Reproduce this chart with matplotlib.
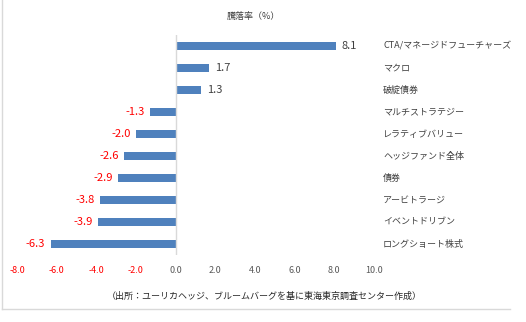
import matplotlib
matplotlib.use("Agg")
import matplotlib.pyplot as plt
import matplotlib.transforms as mtransforms
import numpy as np

plt.rcParams['font.family'] = ['Noto Sans CJK JP', 'DejaVu Sans']

categories = ["CTA/マネージドフューチャーズ", "マクロ", "破綻債券", "マルチストラテジー",
              "レラティブバリュー", "ヘッジファンド全体", "債券", "アービトラージ",
              "イベントドリブン", "ロングショート株式"]
values = [8.1, 1.7, 1.3, -1.3, -2.0, -2.6, -2.9, -3.8, -3.9, -6.3]
xticks = [-8.0, -6.0, -4.0, -2.0, 0.0, 2.0, 4.0, 6.0, 8.0, 10.0]
title = "騰落率（%）"
source = "（出所：ユーリカヘッジ、ブルームバーグを基に東海東京調査センター作成）"

W, H = 526, 322
fig = plt.figure(figsize=(W / 100, H / 100), dpi=100)
ax = fig.add_axes([17 / W, 1 - 255 / H, (374 - 17) / W, 220 / H])

y = np.arange(len(categories))
ax.barh(y, values, height=0.37, color='#4F81BD')
ax.set_ylim(len(categories) - 0.5, -0.5)
ax.set_xlim(-8, 10)

for s in ax.spines.values():
    s.set_visible(False)
ax.axvline(0, color='#D9D9D9', lw=1)
ax.set_yticks([])
ax.set_xticks(xticks)
ax.set_xticklabels([f"{t:.1f}" for t in xticks], fontsize=6.5)
ax.tick_params(axis='x', length=0, pad=8)
for lbl, t in zip(ax.get_xticklabels(), xticks):
    lbl.set_color('#FF0000' if t < 0 else '#595959')

for yi, v in zip(y, values):
    if v >= 0:
        ax.annotate(f"{v:.1f}", (v, yi), xytext=(4, 0), textcoords='offset points',
                    ha='left', va='center', fontsize=8, color='#404040')
    else:
        ax.annotate(f"{v:.1f}", (v, yi), xytext=(-4, 0), textcoords='offset points',
                    ha='right', va='center', fontsize=8, color='#FF0000')

trans = mtransforms.blended_transform_factory(fig.transFigure, ax.transData)
for yi, c in zip(y, categories):
    ax.text(383 / W, yi, c, transform=trans, ha='left', va='center',
            fontsize=6.5, color='#404040')

fig.text(253 / W, 1 - 16 / H, title, ha='center', va='center', fontsize=6.5, color='#404040')
fig.text(264 / W, 1 - 296 / H, source, ha='center', va='center', fontsize=6.5, color='#262626')

# faint chart border (left and bottom)
fig.add_artist(plt.Line2D([2 / W, 2 / W], [1 - 309 / H, 1], transform=fig.transFigure,
                          color='#D9D9D9', lw=1))
fig.add_artist(plt.Line2D([2 / W, 510 / W], [1 - 309 / H, 1 - 309 / H], transform=fig.transFigure,
                          color='#D9D9D9', lw=1))

fig.savefig("out.png", dpi=100)
